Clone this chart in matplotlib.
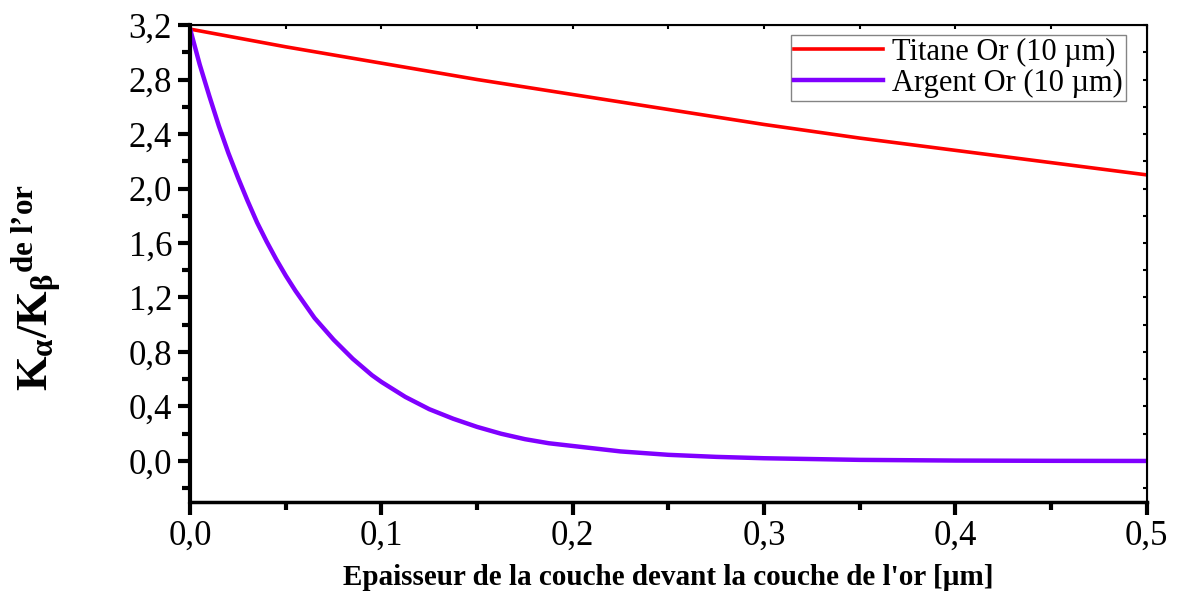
import matplotlib.pyplot as plt
from matplotlib.ticker import MultipleLocator, FuncFormatter

plt.rcParams['font.family'] = ['Liberation Serif', 'DejaVu Serif']
plt.rcParams['mathtext.fontset'] = 'custom'
plt.rcParams['mathtext.rm'] = 'Liberation Serif'
plt.rcParams['mathtext.it'] = 'Liberation Serif:italic'
plt.rcParams['mathtext.bf'] = 'Liberation Serif:bold'

# thickness (um) and Ka/Kb ratio
thick_ti = [0.0, 0.05, 0.1, 0.15, 0.2, 0.25, 0.3, 0.35, 0.4, 0.45, 0.5]
ratio_ti = [3.17, 3.04, 2.92, 2.80, 2.69, 2.58, 2.47, 2.37, 2.28, 2.19, 2.10]

thick_ag = [0.0, 0.005, 0.01, 0.015, 0.02, 0.025, 0.03, 0.035, 0.04, 0.045,
            0.05, 0.055, 0.06, 0.065, 0.07, 0.075, 0.08, 0.085, 0.09, 0.095,
            0.1, 0.1125, 0.125, 0.1375, 0.15, 0.1625, 0.175, 0.1875, 0.2,
            0.225, 0.25, 0.275, 0.3, 0.35, 0.4, 0.45, 0.5]
ratio_ag = [3.17, 2.91, 2.68, 2.46, 2.26, 2.08, 1.91, 1.75, 1.61, 1.48,
            1.36, 1.25, 1.15, 1.05, 0.97, 0.89, 0.82, 0.75, 0.69, 0.63,
            0.58, 0.47, 0.38, 0.31, 0.25, 0.20, 0.16, 0.13, 0.11,
            0.07, 0.045, 0.03, 0.02, 0.008, 0.003, 0.001, 0.0]

fig = plt.figure(figsize=(11.81, 5.96), dpi=100)
ax = fig.add_axes([0.161, 0.158, 0.810, 0.800])

ax.plot(thick_ti, ratio_ti, color='#ff0000', lw=2.6, label='Titane Or (10 µm)')
ax.plot(thick_ag, ratio_ag, color='#8000ff', lw=3.2, label='Argent Or (10 µm)')

ax.set_xlim(0, 0.5)
ax.set_ylim(-0.3, 3.2)
ax.xaxis.set_major_locator(MultipleLocator(0.1))
ax.xaxis.set_minor_locator(MultipleLocator(0.05))
ax.yaxis.set_major_locator(MultipleLocator(0.4))
ax.yaxis.set_minor_locator(MultipleLocator(0.2))
ax.set_yticks([0.0, 0.4, 0.8, 1.2, 1.6, 2.0, 2.4, 2.8, 3.2])
ax.xaxis.set_major_formatter(FuncFormatter(lambda v, p: f'{v:.1f}'.replace('.', ',')))
ax.yaxis.set_major_formatter(FuncFormatter(lambda v, p: f'{v:.1f}'.replace('.', ',')))

ax.tick_params(which='major', direction='out', length=9, width=3, labelsize=25, pad=4)
ax.tick_params(which='minor', direction='out', length=6, width=3)
ax.spines['left'].set_linewidth(3)
ax.spines['bottom'].set_linewidth(2.5)
ax.spines['top'].set_linewidth(1.5)
ax.spines['right'].set_linewidth(1.5)

# Origin style inward ticks on top and right
top = ax.secondary_xaxis('top')
top.xaxis.set_major_locator(MultipleLocator(0.1))
top.xaxis.set_minor_locator(MultipleLocator(0.05))
top.tick_params(which='both', direction='in', length=3, width=1.5, labeltop=False)
right = ax.secondary_yaxis('right')
right.yaxis.set_major_locator(MultipleLocator(0.4))
right.yaxis.set_minor_locator(MultipleLocator(0.2))
right.tick_params(which='both', direction='in', length=3, width=1.5, labelright=False)

ax.set_xlabel("Epaisseur de la couche devant la couche de l'or [µm]",
              fontsize=21, fontweight='bold', labelpad=8)
ax.set_ylabel("$\\mathbf{K_{\\alpha}/K_{\\beta}}$$^{\\mathbf{de\\ l\u2019or}}$",
              fontsize=32, labelpad=40)
ax.yaxis.set_label_coords(-0.133, 0.45)

leg = ax.legend(loc='upper right', bbox_to_anchor=(0.978, 0.979), fontsize=22,
                frameon=True, fancybox=False, edgecolor='#666666',
                handlelength=2.9, borderpad=0.1, labelspacing=0.05,
                handletextpad=0.3, borderaxespad=0.0)
leg.get_frame().set_linewidth(1.0)

fig.savefig('out.png', dpi=100)
